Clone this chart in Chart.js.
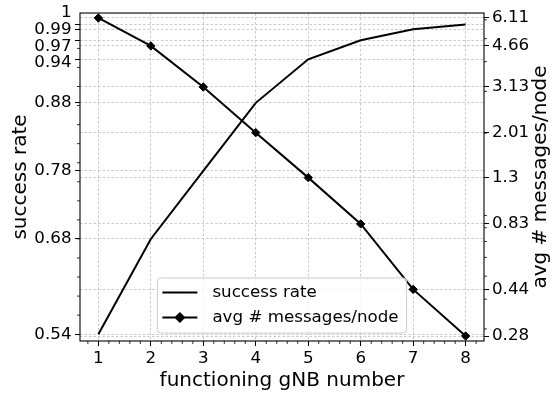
<!DOCTYPE html>
<html>
<head>
<meta charset="utf-8">
<script src="https://cdn.jsdelivr.net/npm/chart.js@4/dist/chart.umd.min.js"></script>
<style>
  html, body { margin: 0; padding: 0; background: #fff; }
  canvas { display: block; }
</style>
</head>
<body>
<canvas id="chart" width="555" height="397"></canvas>
<script>
// Number of functioning gNBs (x axis)
const gnbCounts = [1, 2, 3, 4, 5, 6, 7, 8];
// Success rate for each gNB count (left axis)
const successRate = [0.54, 0.68, 0.78, 0.88, 0.944, 0.972, 0.988, 0.995];
// Average number of messages per node (right axis, log scale)
const avgMessages = [6.11, 4.66, 3.13, 2.01, 1.3, 0.83, 0.44, 0.28];

// Tick labels
const successTickLabels = ['0.54', '0.68', '0.78', '0.88', '0.94', '0.97', '0.99', '1'];
const messageTickLabels = ['6.11', '4.66', '3.13', '2.01', '1.3', '0.83', '0.44', '0.28'];
const messageMinorTicks = [0.3, 0.4, 0.5, 0.6, 0.7, 0.8, 0.9, 2, 3, 4, 5, 6];

// Minor tick helpers
const xMinorTicks = [0.8];
gnbCounts.forEach(n => { for (let k = 1; k <= 4; k++) { const v = n + 0.2 * k; if (v < 8.35) xMinorTicks.push(+v.toFixed(2)); } });
const successMinorTicks = [];
for (let k = 1; k <= 16; k++) successMinorTicks.push(+(0.54 + 0.028 * k).toFixed(3));

const FONT = "'DejaVu Sans', sans-serif";
const TICK_SIZE = 16.7;
const GRID = { color: '#bdbdbd', lineWidth: 0.8, tickColor: '#000', tickLength: 5, tickWidth: 1, tickBorderDash: [] };
const GRID_DASH = { display: false, dash: [2.5, 2] };

Chart.defaults.font.family = FONT;
Chart.defaults.color = '#000';

// Draws the frame, minor ticks, the stacked left tick labels, the right axis title and the legend
const decorations = {
  id: 'decorations',
  afterDraw(chart) {
    const { ctx, chartArea: a, scales } = chart;
    ctx.save();

    // minor tick marks
    ctx.strokeStyle = '#000';
    ctx.lineWidth = 0.8;
    ctx.beginPath();
    xMinorTicks.forEach(v => {
      const x = scales.x.getPixelForValue(v);
      ctx.moveTo(x, a.bottom); ctx.lineTo(x, a.bottom + 3);
    });
    successMinorTicks.forEach(v => {
      const y = scales.ySucc.getPixelForValue(v);
      ctx.moveTo(a.left, y); ctx.lineTo(a.left - 3, y);
    });
    messageMinorTicks.forEach(v => {
      const y = scales.yMsg.getPixelForValue(v);
      ctx.moveTo(a.right, y); ctx.lineTo(a.right + 3, y);
    });
    ctx.stroke();

    // plot frame
    ctx.lineWidth = 1.1;
    ctx.strokeRect(a.left, a.top, a.right - a.left, a.bottom - a.top);

    // left tick labels: top label sits on the axis top, the rest stack downward
    // at least one line apart and never above their own tick
    ctx.fillStyle = '#000';
    ctx.font = TICK_SIZE + 'px ' + FONT;
    ctx.textAlign = 'right';
    ctx.textBaseline = 'middle';
    const order = successRate.map((v, i) => i).sort((i, j) => successRate[j] - successRate[i]);
    let prevY = null;
    order.forEach(i => {
      const tickY = scales.ySucc.getPixelForValue(successRate[i]);
      const y = prevY === null ? a.top : Math.max(tickY, prevY + TICK_SIZE);
      ctx.fillText(successTickLabels[i], a.left - 8.5, y);
      prevY = y;
    });

    // right axis title, reading bottom to top
    ctx.save();
    ctx.translate(546, (a.top + a.bottom) / 2);
    ctx.rotate(-Math.PI / 2);
    ctx.font = '20px ' + FONT;
    ctx.textAlign = 'center';
    ctx.textBaseline = 'alphabetic';
    ctx.fillText('avg # messages/node', 0, 0);
    ctx.restore();

    // legend
    ctx.font = TICK_SIZE + 'px ' + FONT;
    const sets = chart.data.datasets;
    const textW = Math.max(...sets.map(d => ctx.measureText(d.label).width));
    const sample = 35, padL = 5, gap = 15, padR = 8, rowH = 25;
    const boxW = padL + sample + gap + textW + padR;
    const boxH = 55;
    const bx = (a.left + a.right) / 2 - boxW / 2;
    const by = a.bottom - 8 - boxH;
    ctx.beginPath();
    ctx.roundRect(bx, by, boxW, boxH, 3.5);
    ctx.fillStyle = 'rgba(255,255,255,0.8)';
    ctx.fill();
    ctx.strokeStyle = '#cccccc';
    ctx.lineWidth = 1;
    ctx.stroke();
    sets.forEach((d, i) => {
      const y = by + 14.5 + i * rowH;
      const x0 = bx + padL;
      ctx.strokeStyle = d.borderColor;
      ctx.lineWidth = d.borderWidth;
      ctx.beginPath();
      ctx.moveTo(x0, y); ctx.lineTo(x0 + sample, y);
      ctx.stroke();
      if (d.pointRadius > 0) {
        Chart.helpers.drawPoint(ctx, {
          pointStyle: d.pointStyle, radius: d.pointRadius, borderWidth: d.pointBorderWidth, rotation: 0
        }, x0 + sample / 2, y);
        ctx.fillStyle = d.pointBackgroundColor;
      }
      ctx.fillStyle = '#000';
      ctx.textAlign = 'left';
      ctx.textBaseline = 'middle';
      ctx.fillText(d.label, x0 + sample + gap, y);
    });

    ctx.restore();
  }
};

new Chart(document.getElementById('chart'), {
  type: 'line',
  data: {
    datasets: [
      {
        label: 'success rate',
        data: gnbCounts.map((n, i) => ({ x: n, y: successRate[i] })),
        yAxisID: 'ySucc',
        borderColor: '#000',
        borderWidth: 2,
        pointRadius: 0,
        fill: false
      },
      {
        label: 'avg # messages/node',
        data: gnbCounts.map((n, i) => ({ x: n, y: avgMessages[i] })),
        yAxisID: 'yMsg',
        borderColor: '#000',
        borderWidth: 2,
        pointStyle: 'rectRot',
        pointRadius: 4.2,
        pointBorderWidth: 1,
        pointBackgroundColor: '#000',
        pointBorderColor: '#000',
        fill: false
      }
    ]
  },
  options: {
    responsive: false,
    animation: false,
    layout: { padding: { top: 11, left: 0, right: 0, bottom: 0 } },
    plugins: { legend: { display: false }, tooltip: { enabled: false } },
    scales: {
      x: {
        type: 'linear',
        min: 0.65,
        max: 8.35,
        bounds: 'data',
        afterBuildTicks: s => { s.ticks = gnbCounts.map(v => ({ value: v })); },
        afterFit: s => { s.height = 56; },
        grid: GRID,
        border: GRID_DASH,
        ticks: { font: { size: TICK_SIZE }, padding: 3, maxRotation: 0, autoSkip: false, callback: v => String(v) },
        title: { display: true, text: 'functioning gNB number', font: { size: 20 }, padding: { top: 0, bottom: 4 } }
      },
      ySucc: {
        type: 'linear',
        position: 'left',
        min: 0.53,
        max: 1.012,
        bounds: 'data',
        afterBuildTicks: s => { s.ticks = successRate.map(v => ({ value: v })); },
        afterFit: s => { s.width = 80; },
        grid: GRID,
        border: GRID_DASH,
        ticks: { display: false },
        title: { display: true, text: 'success rate', font: { size: 20 }, padding: { top: 9, bottom: 0 } }
      },
      yMsg: {
        type: 'logarithmic',
        position: 'right',
        min: 0.2668,
        max: 6.41,
        bounds: 'data',
        afterBuildTicks: s => { s.ticks = avgMessages.map(v => ({ value: v })); },
        afterFit: s => { s.width = 71; },
        grid: GRID,
        border: GRID_DASH,
        ticks: {
          font: { size: TICK_SIZE },
          padding: 3,
          autoSkip: false,
          callback: v => messageTickLabels[avgMessages.indexOf(v)]
        }
      }
    }
  },
  plugins: [decorations]
});
</script>
</body>
</html>
